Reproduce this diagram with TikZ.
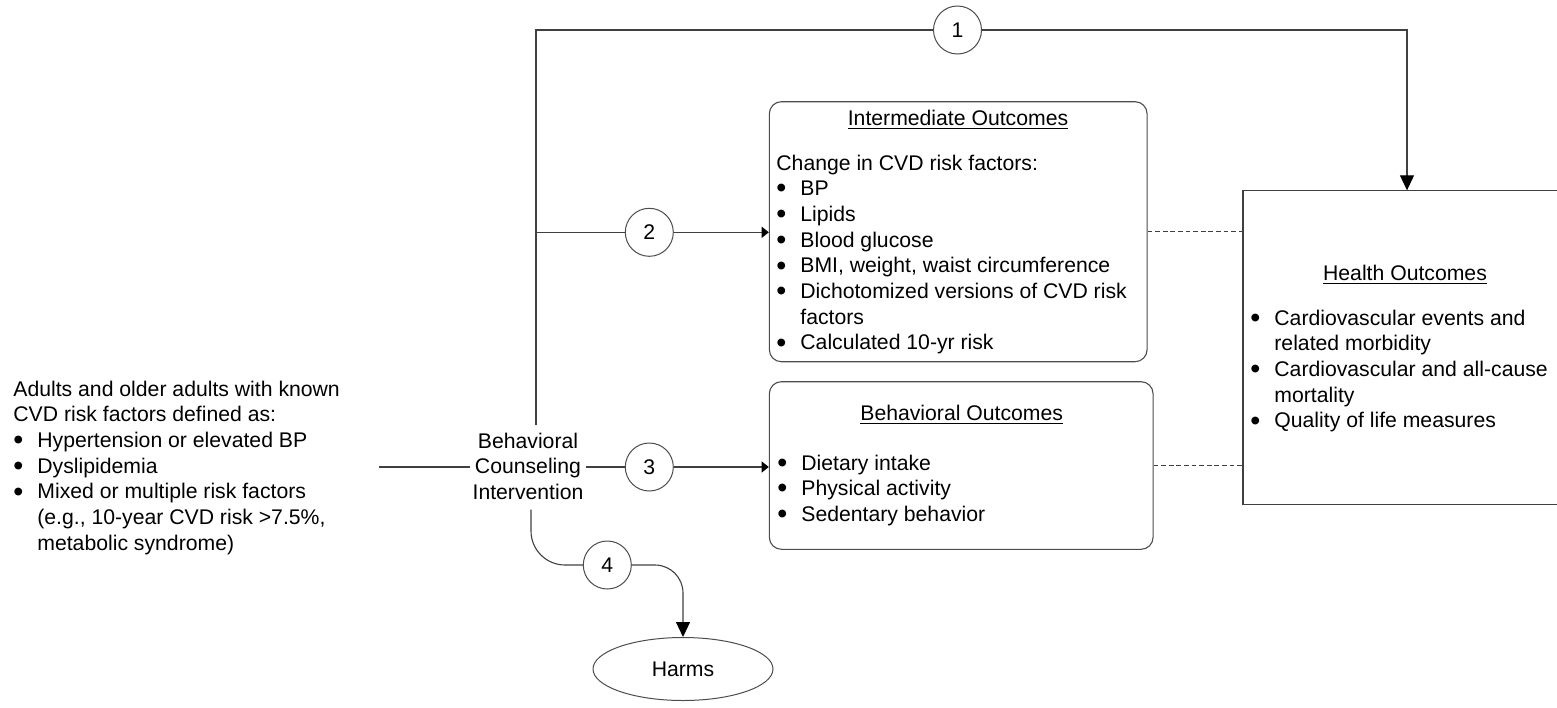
\documentclass[tikz,border=0pt]{standalone}
\usepackage{fontspec}
\setmainfont{Liberation Sans}
\usetikzlibrary{arrows.meta,shapes.geometric}
\newcommand\bitem{\makebox[12pt][l]{\raisebox{-1.1pt}{\scalebox{1.35}{\textbullet}}}}
\tikzset{
  txt/.style={font=\fontsize{10.6pt}{12.85pt}\selectfont, inner sep=0pt},
  ln/.style={draw=black!75, line width=0.55pt},
  bigtip/.style={-{Triangle[length=7.5pt,width=7pt,color=black]}},
  smalltip/.style={-{Triangle[length=3.6pt,width=5.6pt,color=black]}},
  num/.style={txt, circle, draw=black!70, line width=0.5pt, minimum size=24pt},
  rbox/.style={draw=black!70, line width=0.55pt, rounded corners=6pt},
}
\begin{document}
\begin{tikzpicture}[x=0.5pt, y=-0.5pt]
\useasboundingbox (0,0) rectangle (1557,707);

% left population text
\node[txt, anchor=base west] (pop) at (13,396) {\begin{tabular}[t]{@{}l@{}}
Adults and older adults with known\\
CVD risk factors defined as:\\
\bitem Hypertension or elevated BP\\
\bitem Dyslipidemia\\
\bitem Mixed or multiple risk factors\\
\hspace*{12pt}(e.g., 10-year CVD risk >7.5\%,\\
\hspace*{12pt}metabolic syndrome)
\end{tabular}};

% intervention
\node[txt, anchor=base, inner sep=1pt] (bci) at (528,448) {\begin{tabular}[t]{@{}c@{}}Behavioral\\Counseling\\Intervention\end{tabular}};

% boxes
\node[rbox, minimum width=188.85pt, minimum height=130pt, inner sep=0pt] (im) at (958.2,231.7) {};
\node[rbox, minimum width=191.85pt, minimum height=83.8pt, inner sep=0pt] (bo) at (961.2,465.5) {};
\node[minimum width=156.85pt, minimum height=156.8pt, inner sep=0pt] (h) at (1400.2,347.5) {};
\draw[ln] (h.north east) -- (h.north west) -- (h.south west) -- (h.south east);

% box texts
\node[txt, anchor=base] (imt) at (958,125.7) {\underline{Intermediate Outcomes}};
\node[txt, anchor=base west] (imb) at (776,170) {\begin{tabular}[t]{@{}l@{}}
Change in CVD risk factors:\\
\bitem BP\\
\bitem Lipids\\
\bitem Blood glucose\\
\bitem BMI, weight, waist circumference\\
\bitem Dichotomized versions of CVD risk\\
\hspace*{12pt}factors\\
\bitem Calculated 10-yr risk
\end{tabular}};

\node[txt, anchor=base] (bot) at (961.7,420) {\underline{Behavioral Outcomes}};
\node[txt, anchor=base west] (bob) at (777,470) {\begin{tabular}[t]{@{}l@{}}
\bitem Dietary intake\\
\bitem Physical activity\\
\bitem Sedentary behavior
\end{tabular}};

\node[txt, anchor=base] (ht) at (1405,280) {\underline{Health Outcomes}};
\node[txt, anchor=base west] (hb) at (1250,325) {\begin{tabular}[t]{@{}l@{}}
\bitem Cardiovascular events and\\
\hspace*{12pt}related morbidity\\
\bitem Cardiovascular and all-cause\\
\hspace*{12pt}mortality\\
\bitem Quality of life measures
\end{tabular}};

% harms
\node[txt, ellipse, draw=black!70, line width=0.5pt, minimum width=90pt, minimum height=31.5pt] (harms) at (683,669) {Harms};

% numbered circles
\node[num] (c1) at (957.5,30) {1};
\node[num] (c2) at (649.3,232.3) {2};
\node[num] (c3) at (649.3,467) {3};
\node[num] (c4) at (607.3,565) {4};

% coordinates
\coordinate (in) at (379,467);
\coordinate (tl) at (536,30);
\coordinate (a1) at (1407,30);
\coordinate (j2) at (536,232.3);

% connectors
\draw[ln] (in) -- (in -| bci.west);
\draw[ln] ([xshift=4pt,yshift=1.5pt]bci.north) -- (tl) -- (c1);
\draw[ln, bigtip] (c1) -- (a1) -- (a1 |- h.north);
\draw[ln] (j2) -- (c2);
\draw[ln, smalltip] (c2) -- (c2 -| im.west);
\draw[ln] (bci.east |- c3) -- (c3);
\draw[ln, smalltip] (c3) -- (c3 -| bo.west);
\draw[ln, rounded corners=17pt] ([xshift=1.5pt]bci.south) |- (c4);
\draw[ln, rounded corners=14pt, bigtip] (c4) -| (harms);
\draw[ln, dash pattern=on 2.4pt off 1.4pt] (im.east) -- (im.east -| h.west);
\draw[ln, dash pattern=on 2.4pt off 1.4pt] (bo.east) -- (bo.east -| h.west);
\end{tikzpicture}
\end{document}
